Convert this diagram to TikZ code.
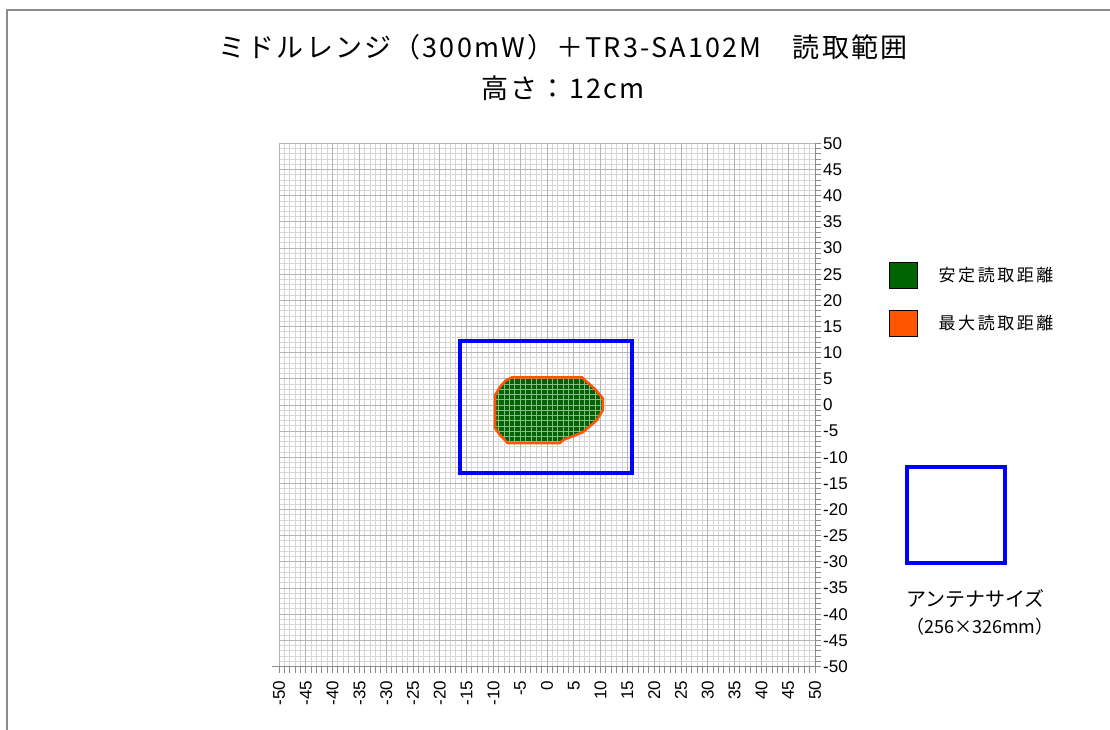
\documentclass[tikz,border=0pt]{standalone}
\usepackage{fontspec}
\setmainfont{Liberation Sans}
\newfontfamily\jpfont{Noto Sans CJK JP}
\newfontfamily\jptitle[LetterSpace=8]{Noto Sans CJK JP}
\newfontfamily\jpwide[LetterSpace=15]{Noto Sans CJK JP}
\usetikzlibrary{positioning}

\definecolor{stablegreen}{HTML}{006400}
\definecolor{maxorange}{HTML}{FF5500}
\definecolor{antblue}{HTML}{0000FF}

% outline of the readable area, in data units
\newcommand{\blobpath}{(-6.5,5.3) -- (6.5,5.3) -- (9,3) -- (10.4,1.3) -- (10.4,-1)
    -- (9.3,-2.9) -- (6.7,-5.2) -- (3,-6.7) -- (2.4,-7.3) -- (-7.3,-7.3)
    -- (-8.8,-5.7) -- (-9.7,-4.4) -- (-9.7,1.9) -- (-8.8,3.4) -- (-7.8,4.6) -- cycle}

\begin{document}
\begin{tikzpicture}[x=1pt, y=-1pt,
    title/.style={font=\jptitle\fontsize{27}{30}\selectfont, inner sep=0pt},
    swatch/.style={draw=black, line width=1pt, minimum width=28pt,
        minimum height=26pt, inner sep=0pt},
    legendtext/.style={font=\jpwide\fontsize{17}{19}\selectfont, inner sep=0pt},
    ylabel/.style={font=\fontsize{17}{19}\selectfont, inner sep=0pt, anchor=west},
    xlabel/.style={font=\fontsize{17}{19}\selectfont, inner sep=0pt, anchor=east, rotate=90},
    minorgrid/.style={gray!32, line width=1pt},
    majorgrid/.style={gray!58, line width=1pt},
    axisline/.style={gray!90, line width=1pt}
]
    \useasboundingbox (0,0) rectangle (1110,730);
    \draw[gray!90, line width=2pt] (7,730) -- (7,10) -- (1110,10);

    \node[title] (title) at (563,47) {ミドルレンジ（300mW）＋TR3-SA102M　読取範囲};
    \node[title] (height) at (563,88) {高さ：12cm};

    % plot area in data units
    \begin{scope}[shift={(547,405)}, x=5.36pt, y=5.23pt]
        \foreach \i in {-50,...,50} {
            \draw[minorgrid] (\i,-50) -- (\i,50);
            \draw[minorgrid] (-50,\i) -- (50,\i);
            \draw[axisline] (\i,-50) -- ++(0pt,-6pt);
            \draw[axisline] (50,\i) -- ++(6pt,0pt);
        }
        \foreach \i in {-50,-45,...,50} {
            \draw[majorgrid] (\i,-50) -- (\i,50);
            \draw[majorgrid] (-50,\i) -- (50,\i);
            \node[ylabel] (ylab\i) at ([xshift=8pt] 50,\i) {\i};
            \node[xlabel] (xlab\i) at ([yshift=-14pt] \i,-50) {\i};
        }
        \draw[axisline] (-51.3,-50) -- (50,-50) -- (50,50);

        \draw[antblue, line width=4pt] (-16.3,12.2) rectangle (15.9,-13);

        \begin{scope}
            \clip \blobpath;
            \fill[stablegreen] (-11,-9) rectangle (12,7);
            \draw[white, opacity=.55, line width=0.8pt, step=1] (-11,-9) grid (12,7);
        \end{scope}
        \draw[maxorange, line width=2.5pt, line join=round] \blobpath;
    \end{scope}

    % legend
    \node[swatch, fill=stablegreen] (stable) at (903,275) {};
    \node[swatch, fill=maxorange] (maxrange) at (903,323) {};
    \node[legendtext, right=21pt of stable] (stabletext) {安定読取距離};
    \node[legendtext, right=21pt of maxrange] (maxtext) {最大読取距離};

    \node[draw=antblue, line width=4pt, minimum width=98pt, minimum height=96pt,
        inner sep=0pt] (antenna) at (956,515) {};
    \node[font=\jpfont\fontsize{20}{22}\selectfont, inner sep=0pt, anchor=west]
        (antname) at (906,598) {アンテナサイズ};
    \node[font=\jpfont\fontsize{18}{20}\selectfont, inner sep=0pt, anchor=west]
        (antsize) at (906,627) {（256×326mm）};
\end{tikzpicture}
\end{document}
